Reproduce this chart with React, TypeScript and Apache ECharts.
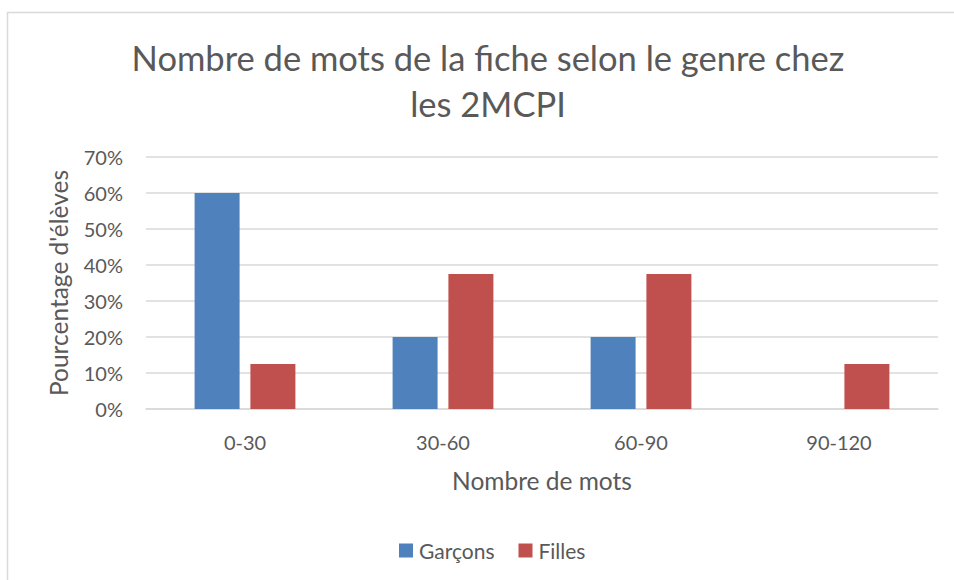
import React, { useEffect, useRef } from "react";
import * as echarts from "echarts";

const categories = ["0-30", "30-60", "60-90", "90-120"];
const garcons = [60, 20, 20, 0];
const filles = [12.5, 37.5, 37.5, 12.5];
const titleLines = ["Nombre de mots de la fiche selon le genre chez", "les 2MCPI"];
const FONT = "Lato, 'Open Sans', sans-serif";
const TXT = "#595959";

export default function App() {
  const ref = useRef<HTMLDivElement>(null);
  useEffect(() => {
    const chart = echarts.init(ref.current!, null, { renderer: "svg" });
    chart.setOption({
      animation: false,
      backgroundColor: "#ffffff",
      textStyle: { fontFamily: FONT },
      graphic: [
        {
          type: "rect",
          shape: { x: 7.5, y: 12.5, width: 1000, height: 700 },
          style: { fill: "none", stroke: "#d9d9d9", lineWidth: 1.5 },
          silent: true,
        },
        {
          type: "text",
          x: 488,
          y: 57,
          style: {
            text: titleLines[0],
            fontFamily: FONT,
            fontSize: 34.5,
            fill: TXT,
            align: "center",
            verticalAlign: "middle",
          },
        },
        {
          type: "text",
          x: 488,
          y: 103,
          style: {
            text: titleLines[1],
            fontFamily: FONT,
            fontSize: 34.5,
            fill: TXT,
            align: "center",
            verticalAlign: "middle",
          },
        },
      ],
      legend: {
        data: ["Garçons", "Filles"],
        top: 540,
        left: 399,
        padding: 0,
        itemWidth: 14,
        itemHeight: 14,
        itemGap: 24,
        icon: "rect",
        textStyle: { fontFamily: FONT, fontSize: 21, color: TXT, padding: [0, 0, 0, 1] },
      },
      grid: { left: 146, right: 16, top: 157, bottom: 171 },
      xAxis: {
        type: "category",
        data: categories,
        name: "Nombre de mots",
        nameLocation: "middle",
        nameGap: 59,
        nameTextStyle: { fontFamily: FONT, fontSize: 24.5, color: TXT },
        axisLine: { lineStyle: { color: "#d9d9d9", width: 1.5 } },
        axisTick: { show: false },
        axisLabel: { fontFamily: FONT, fontSize: 20, color: TXT, margin: 23 },
      },
      yAxis: {
        type: "value",
        min: 0,
        max: 70,
        interval: 10,
        name: "Pourcentage d'élèves",
        nameLocation: "middle",
        nameGap: 75,
        nameTextStyle: { fontFamily: FONT, fontSize: 24.5, color: TXT },
        axisLine: { show: false },
        axisTick: { show: false },
        axisLabel: {
          fontFamily: FONT,
          fontSize: 20,
          color: TXT,
          margin: 23,
          formatter: (v: number) => v + "%",
        },
        splitLine: { lineStyle: { color: "#d9d9d9", width: 1.5 } },
      },
      series: [
        {
          name: "Garçons",
          type: "bar",
          data: garcons,
          barWidth: 45,
          barGap: "24%",
          itemStyle: { color: "#4f81bd" },
        },
        {
          name: "Filles",
          type: "bar",
          data: filles,
          barWidth: 45,
          itemStyle: { color: "#c0504d" },
        },
      ],
    });
    return () => chart.dispose();
  }, []);
  return (
    <div
      ref={ref}
      style={{ position: "absolute", left: 0, top: 0, width: 954, height: 580 }}
    />
  );
}
